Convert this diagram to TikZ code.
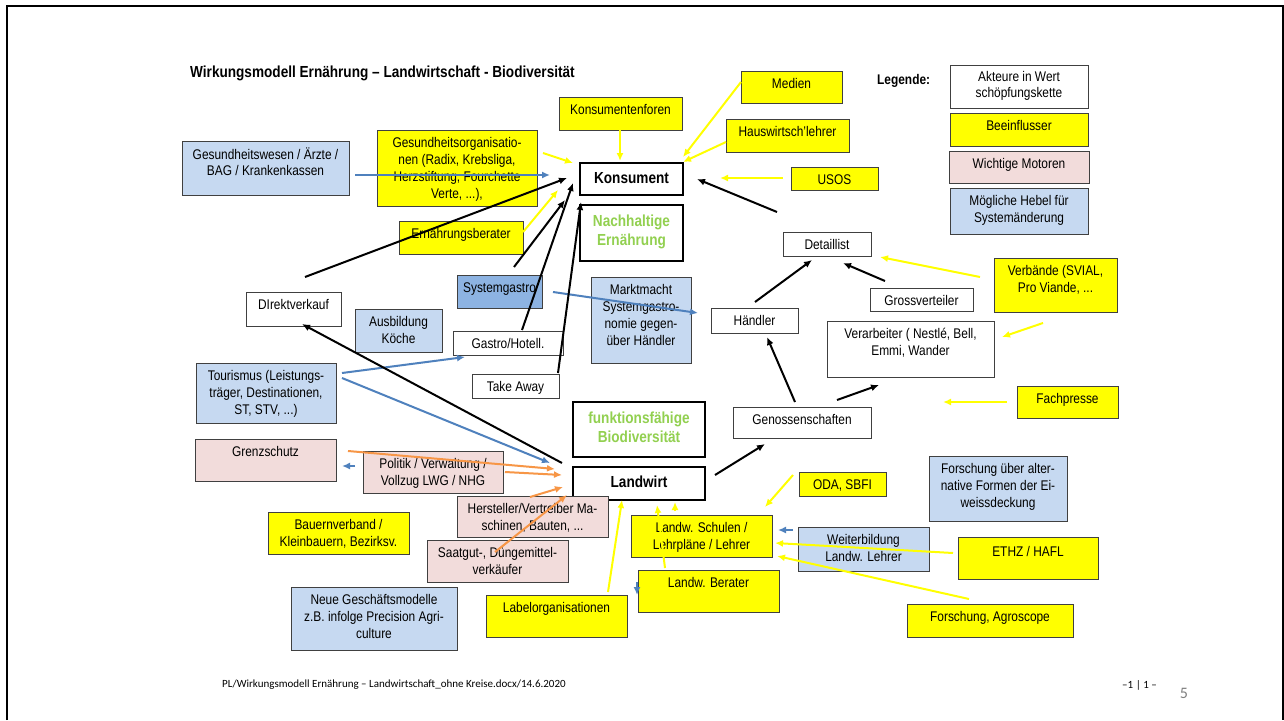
\documentclass[tikz,border=0pt]{standalone}
\usepackage{fontspec}
\setmainfont{Liberation Sans}[FakeStretch=0.85]
\newfontfamily\footfont{Carlito}
\usetikzlibrary{arrows.meta,calc}
\definecolor{cY}{HTML}{FFFF00}
\definecolor{cLB}{HTML}{C6D9F1}
\definecolor{cMB}{HTML}{8DB3E2}
\definecolor{cPK}{HTML}{F2DCDB}
\definecolor{cGR}{HTML}{92D050}
\definecolor{cB}{HTML}{4F81BD}
\definecolor{cO}{HTML}{F79646}
\definecolor{cYA}{HTML}{FFFF00}
\newcommand\fr{\fontsize{14}{16.7}\selectfont}
\newcommand\fbd{\fontsize{16}{19}\selectfont\bfseries}
% [top gap]{name}{style}{x1}{y1}{x2}{y2}{font}{text}
\newcommand\bx[9][6.3]{%
  \node[#3, anchor=north west, inner sep=0pt, outer sep=0pt] (#2) at (#4,#5)
  {\parbox[c][\dimexpr#7pt-#5pt\relax][t]{\dimexpr#6pt-#4pt\relax}{\centering#8\vspace*{#1pt}\strut#9\par}};}
\tikzset{
  wbox/.style={draw=black!75, line width=1pt, fill=white},
  ybox/.style={wbox, fill=cY},
  bbox/.style={wbox, fill=cLB},
  mbox/.style={wbox, fill=cMB},
  pbox/.style={wbox, fill=cPK},
  tbox/.style={draw=black, line width=2.6pt, fill=white},
  ka/.style={draw=black, line width=2pt, -{Latex[length=8pt,width=7pt]}},
  ya/.style={draw=cYA, line width=2pt, -{Latex[length=8pt,width=7pt]}},
  ba/.style={draw=cB, line width=2pt, -{Latex[length=8pt,width=7pt]}},
  oa/.style={draw=cO, line width=2pt, -{Latex[length=8pt,width=7pt]}},
}
\begin{document}
\begin{tikzpicture}[x=1pt,y=-1pt]
\useasboundingbox (0,0) rectangle (1284,720);
\fill[white] (0,0) rectangle (1284,720);
\draw[line width=1.8pt] (7,720) -- (7,6) -- (1283,6) -- (1283,720);

\node[anchor=west, inner sep=0pt, font=\fbd] (title) at (190,73) {Wirkungsmodell Ernährung – Landwirtschaft - Biodiversität};
\node[anchor=west, inner sep=0pt, font=\fontsize{14}{16}\selectfont\bfseries] (legt) at (877,81) {Legende:};

% legend
\bx[4.5]{leg1}{wbox}{950}{65}{1088}{108}{\fr}{Akteure in Wert\\schöpfungskette}
\bx{leg2}{ybox}{950}{113}{1088}{146}{\fr}{Beeinflusser}
\bx{leg3}{pbox}{949}{151}{1089}{183}{\fr}{Wichtige Motoren}
\bx{leg4}{bbox}{950}{188}{1088}{234}{\fr}{Mögliche Hebel für\\Systemänderung}

% top area
\bx{gw}{bbox}{182}{141}{349}{195}{\fr}{Gesundheitswesen / Ärzte /\\BAG / Krankenkassen}
\bx{go}{ybox}{377}{130}{537}{206}{\fr}{Gesundheitsorganisatio-\\nen (Radix, Krebsliga,\\Herzstiftung, Fourchette\\Verte, ...),}
\bx{eb}{ybox}{399}{221}{523}{254}{\fr}{Ernährungsberater}
\bx{kf}{ybox}{559}{97}{682}{130}{\fr}{Konsumentenforen}
\bx{med}{ybox}{741}{71}{842}{103}{\fr}{Medien}
\bx{hw}{ybox}{726}{119}{849}{152}{\fr}{Hauswirtsch’lehrer}
\bx{usos}{ybox}{791}{167}{878}{190}{\fr}{USOS}
\bx[7.5]{kons}{tbox}{580}{163}{683}{195}{\fbd}{Konsument}
\bx[8]{nach}{tbox}{580}{205}{683}{261}{\fbd\color{cGR}}{Nachhaltige\\Ernährung}
\bx{det}{wbox}{783}{232}{871}{256}{\fr}{Detaillist}

% middle
\bx{dv}{wbox}{246}{292}{341}{326}{\fr}{DIrektverkauf}
\bx{ak}{bbox}{355}{309}{442}{352}{\fr}{Ausbildung\\Köche}
\bx{sg}{mbox}{457}{275}{542}{308}{\fr}{Systemgastro}
\bx{gh}{wbox}{453}{331}{563}{355}{\fr}{Gastro/Hotell.}
\bx{ta}{wbox}{472}{374}{559}{398}{\fr}{Take Away}
\bx{tour}{bbox}{196}{363}{336}{423}{\fr}{Tourismus (Leistungs-\\träger, Destinationen,\\ST, STV, ...)}
\bx{mm}{bbox}{591}{277}{691}{363}{\fr}{Marktmacht\\Systemgastro-\\nomie gegen-\\über Händler}
\bx{hae}{wbox}{711}{308}{798}{333}{\fr}{Händler}
\bx{gv}{wbox}{870}{288}{973}{311}{\fr}{Grossverteiler}
\bx{verb}{ybox}{994}{258}{1117}{312}{\fr}{Verbände (SVIAL,\\Pro Viande, ...}
\bx{vera}{wbox}{827}{321}{994}{377}{\fr}{Verarbeiter ( Nestlé, Bell,\\Emmi, Wander}
\bx{fp}{ybox}{1017}{386}{1118}{418}{\fr}{Fachpresse}
\bx{gen}{wbox}{733}{407}{871}{438}{\fr}{Genossenschaften}
\bx[8]{bio}{tbox}{573}{402}{705}{457}{\fbd\color{cGR}}{funktionsfähige\\Biodiversität}
\bx[7.5]{lw}{tbox}{573}{467}{705}{500}{\fbd}{Landwirt}

% lower
\bx{gs}{pbox}{195}{439}{336}{481}{\fr}{Grenzschutz}
\bx{pol}{pbox}{363}{451}{503}{493}{\fr}{Politik / Verwaltung /\\Vollzug LWG / NHG}
\bx{hers}{pbox}{457}{496}{608}{537}{\fr}{Hersteller/Vertreiber Ma-\\schinen, Bauten, ...}
\bx{saat}{pbox}{427}{540}{568}{582}{\fr}{Saatgut-, Düngemittel-\\verkäufer}
\bx{bv}{ybox}{268}{512}{409}{554}{\fr}{Bauernverband /\\Kleinbauern, Bezirksv.}
\bx{ngm}{bbox}{291}{587}{457}{650}{\fr}{Neue Geschäftsmodelle\\z.B. infolge Precision Agri-\\culture}
\bx{lo}{ybox}{486}{595}{627}{637}{\fr}{Labelorganisationen}
\bx{oda}{ybox}{799}{472}{886}{496}{\fr}{ODA, SBFI}
\bx{ls}{ybox}{631}{515}{772}{557}{\fr}{Landw. Schulen /\\Lehrpläne / Lehrer}
\bx{wb}{bbox}{798}{527}{929}{571}{\fr}{Weiterbildung\\Landw. Lehrer}
\bx{lb}{ybox}{638}{570}{779}{612}{\fr}{Landw. Berater}
\bx{fa}{bbox}{929}{456}{1067}{521}{\fr}{Forschung über alter-\\native Formen der Ei-\\weissdeckung}
\bx[8]{eth}{ybox}{958}{537}{1098}{579}{\fr}{ETHZ / HAFL}
\bx{fag}{ybox}{907}{604}{1073}{637}{\fr}{Forschung, Agroscope}

% blue arrows
\draw[ba] ($(gw.north west)+(173,34)$) -- ($(kons.north west)+(-30,12)$);
\draw[ba] ($(tour.north west)+(146,10)$) -- ($(gh.north west)+(12,26)$);
\draw[ba] ($(tour.north west)+(146,15)$) -- ($(lw.north west)+(-23,-4)$);
\draw[ba] ($(sg.north west)+(96,17)$) -- ($(hae.north west)+(-13,5)$);
\draw[ba] ($(pol.north west)+(-8,15)$) -- ($(gs.north west)+(147,27)$);
\draw[ba] ($(wb.north west)+(-5,3)$) -- ($(ls.north west)+(147,15)$);
\draw[ba] ($(lb.north west)+(-1,12)$) -- ($(lb.north west)+(-1,25)$);

% orange arrows
\draw[oa] ($(gs.north west)+(153,12)$) -- ($(lw.north west)+(-18,2)$);
\draw[oa] ($(pol.north west)+(142,21)$) -- ($(lw.north west)+(-11,8)$);
\draw[oa] ($(hers.north west)+(73,1)$) -- ($(lw.north west)+(-10,20)$);
\draw[oa] ($(saat.north west)+(68,12)$) -- ($(lw.north west)+(-6,28)$);

% black arrows
\draw[ka] ($(dv.north west)+(59,-15)$) -- ($(kons.north west)+(-13,15)$);
\draw[ka] ($(sg.north west)+(57,-8)$) -- ($(kons.north west)+(-15,37)$);
\draw[ka] ($(gh.north west)+(69,-1)$) -- ($(kons.north west)+(-7,20)$);
\draw[ka] ($(ta.north west)+(86,-1)$) -- ($(kons.north west)+(1,39)$);
\draw[ka] ($(det.north west)+(-6,-20)$) -- ($(kons.north west)+(117,16)$);
\draw[ka] ($(hae.north west)+(44,-6)$) -- ($(det.north west)+(29,28)$);
\draw[ka] ($(gv.north west)+(15,-7)$) -- ($(det.north west)+(60,31)$);
\draw[ka] ($(gen.north west)+(62,-5)$) -- ($(hae.north west)+(56,29)$);
\draw[ka] ($(gen.north west)+(104,-7)$) -- ($(vera.north west)+(52,64)$);
\draw[ka] ($(lw.north west)+(142,8)$) -- ($(gen.north west)+(32,37)$);
\draw[ka] ($(lw.north west)+(-11,-4)$) -- ($(dv.north west)+(56,32)$);

% yellow arrows
\draw[ya] ($(kf.north west)+(61,33)$) -- ($(kons.north west)+(40,-2)$);
\draw[ya] ($(med.north west)+(0,11)$) -- ($(kons.north west)+(103,-6)$);
\draw[ya] ($(hw.north west)+(0,23)$) -- ($(kons.north west)+(103,-1)$);
\draw[ya] ($(usos.north west)+(-8,11)$) -- ($(kons.north west)+(140,15)$);
\draw[ya] ($(go.north west)+(166,23)$) -- ($(kons.north west)+(-7,0)$);
\draw[ya] ($(eb.north west)+(124,11)$) -- ($(kons.north west)+(-22,27)$);
\draw[ya] ($(verb.north west)+(-14,19)$) -- ($(det.north west)+(97,25)$);
\draw[ya] ($(verb.north west)+(49,65)$) -- ($(vera.north west)+(175,16)$);
\draw[ya] ($(fp.north west)+(-10,16)$) -- ($(vera.north west)+(116,81)$);
\draw[ya] ($(lo.north west)+(122,-3)$) -- ($(lw.north west)+(49,33)$);
\draw[ya] ($(lb.north west)+(27,-2)$) -- ($(lw.north west)+(84,38)$);
\draw[ya] ($(ls.north west)+(44,-4)$) -- ($(lw.north west)+(102,35)$);
\draw[ya] ($(oda.north west)+(-6,3)$) -- ($(ls.north west)+(134,-8)$);
\draw[ya] ($(eth.north west)+(-5,16)$) -- ($(ls.north west)+(144,28)$);
\draw[ya] ($(fag.north west)+(62,-5)$) -- ($(ls.north west)+(146,41)$);

% footer
\node[anchor=west, inner sep=0pt, font=\footfont\fontsize{11}{13}\selectfont] (foot) at (222,685) {PL/Wirkungsmodell Ernährung – Landwirtschaft\_ohne Kreise.docx/14.6.2020};
\node[anchor=west, inner sep=0pt, font=\footfont\fontsize{11}{13}\selectfont] (pg) at (1122,685) {–1 | 1 –};
\node[inner sep=0pt, text=black!50, font=\footfont\fontsize{16}{18}\selectfont] (num) at (1184,693) {5};
\end{tikzpicture}
\end{document}
